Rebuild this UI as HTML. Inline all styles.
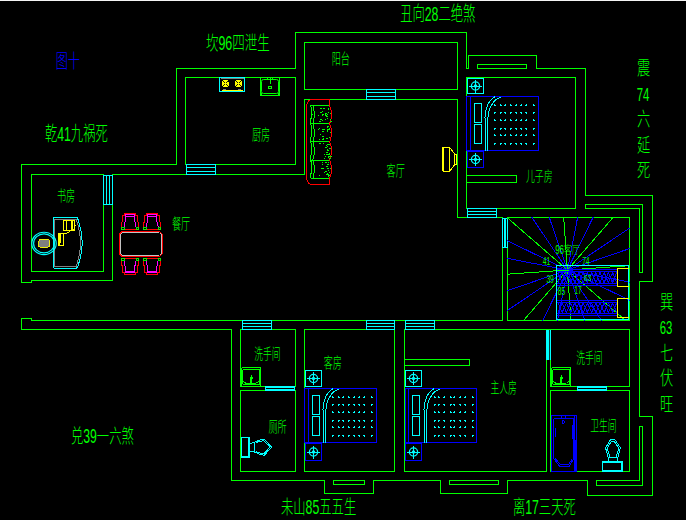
<!DOCTYPE html>
<html lang="zh"><head><meta charset="utf-8"><title>户型图 图十</title>
<style>
html,body{margin:0;padding:0;background:#000;}
body{width:686px;height:520px;overflow:hidden;font-family:"Liberation Sans",sans-serif;}
svg{display:block}
svg{shape-rendering:crispEdges}
#labels text{font-family:"Liberation Sans","Noto Sans CJK SC",sans-serif;stroke:none;font-weight:300}
</style></head><body>
<svg width="686" height="520" viewBox="0 0 686 520" fill="none" stroke-width="1">
<rect x="0" y="0" width="686" height="520" fill="#000"/>
<rect x="0" y="0" width="686" height="1" fill="#f4f4f4"/>
<g id="walls">
<path d="M21.5 164.5 L176.5 164.5 L176.5 68.5 L295.5 68.5 L295.5 32.5 L466.5 32.5 L466.5 68.5 L468.5 68.5 L468.5 55.5 L536.5 55.5 L536.5 68.5 L585.5 68.5 L585.5 195.5 L652.5 195.5 L652.5 281.5 L639.5 281.5 L639.5 416.5 L652.5 416.5 L652.5 495.5 L587.5 495.5 L587.5 480.5 L507.5 480.5 L507.5 493.5 L440.5 493.5 L440.5 480.5 L373.5 480.5 L373.5 493.5 L324.5 493.5 L324.5 480.5 L231.5 480.5 L231.5 329.5 L21.5 329.5 L21.5 318.5 L31.5 318.5 L31.5 320.5 L502.5 320.5 L502.5 217.5 L457.5 217.5 L457.5 99.5 L304.5 99.5 L304.5 174.5 L112.5 174.5 L112.5 280.5 L31.5 280.5 L31.5 282.5 L21.5 282.5 Z" stroke="#00ff00" />
<rect x="304.5" y="42.5" width="153" height="47" stroke="#00ff00" />
<rect x="185.5" y="77.5" width="110" height="87" stroke="#00ff00" />
<rect x="31.5" y="174.5" width="72" height="97" stroke="#00ff00" />
<rect x="466.5" y="77.5" width="109" height="131" stroke="#00ff00" />
<rect x="507.5" y="217.5" width="122" height="103" stroke="#00ff00" />
<rect x="240.5" y="329.5" width="55" height="57" stroke="#00ff00" />
<rect x="240.5" y="390.5" width="55" height="81" stroke="#00ff00" />
<rect x="304.5" y="329.5" width="90" height="142" stroke="#00ff00" />
<rect x="404.5" y="329.5" width="142" height="142" stroke="#00ff00" />
<rect x="550.5" y="329.5" width="79" height="57" stroke="#00ff00" />
<rect x="550.5" y="390.5" width="79" height="81" stroke="#00ff00" />
<rect x="477.5" y="64.5" width="49" height="4" stroke="#00ff00" />
<rect x="466.5" y="175.5" width="50" height="7" stroke="#00ff00" />
<rect x="404.5" y="359.5" width="65" height="6" stroke="#00ff00" />
<rect x="333.5" y="480.5" width="31" height="4" stroke="#00ff00" />
<rect x="449.5" y="480.5" width="49" height="4" stroke="#00ff00" />
<line x1="546.5" y1="329.5" x2="550.5" y2="329.5" stroke="#00ff00" />
<line x1="502.5" y1="217.5" x2="507.5" y2="217.5" stroke="#00ff00" />
<path d="M585.5 204.5 L642.5 204.5 L642.5 272.5 L639.5 272.5 L639.5 208.5 L585.5 208.5 Z" stroke="#00ff00" />
<path d="M642.5 426.5 L642.5 485.5 L596.5 485.5 L596.5 480.5 L639.5 480.5 L639.5 426.5 Z" stroke="#00ff00" />
</g>
<g id="windows">
<rect x="366.5" y="89.5" width="29" height="10" stroke="#00ffff" fill="#000"/>
<line x1="366.5" y1="92.5" x2="395.5" y2="92.5" stroke="#00ffff" />
<line x1="366.5" y1="96.5" x2="395.5" y2="96.5" stroke="#00ffff" />
<rect x="186.5" y="164.5" width="29" height="10" stroke="#00ffff" fill="#000"/>
<line x1="186.5" y1="167.5" x2="215.5" y2="167.5" stroke="#00ffff" />
<line x1="186.5" y1="171.5" x2="215.5" y2="171.5" stroke="#00ffff" />
<line x1="104" y1="174.5" x2="112" y2="174.5" stroke="#000" />
<rect x="103.5" y="175.5" width="9" height="29" stroke="#00ffff" fill="#000"/>
<line x1="106.5" y1="175.5" x2="106.5" y2="204.5" stroke="#00ffff" />
<line x1="109.5" y1="175.5" x2="109.5" y2="204.5" stroke="#00ffff" />
<rect x="467.5" y="208.5" width="29" height="9" stroke="#00ffff" fill="#000"/>
<line x1="467.5" y1="211.5" x2="496.5" y2="211.5" stroke="#00ffff" />
<line x1="467.5" y1="214.5" x2="496.5" y2="214.5" stroke="#00ffff" />
<line x1="503" y1="217.5" x2="507" y2="217.5" stroke="#000" />
<rect x="502.5" y="218.5" width="5" height="29" stroke="#00ffff" fill="#000"/>
<rect x="504" y="219" width="2" height="28" fill="#00ffff"/>
<rect x="242.5" y="320.5" width="29" height="9" stroke="#00ffff" fill="#000"/>
<line x1="242.5" y1="323.5" x2="271.5" y2="323.5" stroke="#00ffff" />
<line x1="242.5" y1="326.5" x2="271.5" y2="326.5" stroke="#00ffff" />
<rect x="366.5" y="320.5" width="28" height="9" stroke="#00ffff" fill="#000"/>
<line x1="366.5" y1="323.5" x2="394.5" y2="323.5" stroke="#00ffff" />
<line x1="366.5" y1="326.5" x2="394.5" y2="326.5" stroke="#00ffff" />
<rect x="405.5" y="320.5" width="29" height="9" stroke="#00ffff" fill="#000"/>
<line x1="405.5" y1="323.5" x2="434.5" y2="323.5" stroke="#00ffff" />
<line x1="405.5" y1="326.5" x2="434.5" y2="326.5" stroke="#00ffff" />
<rect x="546" y="330" width="3" height="30" fill="#00ffff"/><rect x="549" y="330" width="1" height="30" fill="#003c3c"/><rect x="550" y="330" width="1" height="30" fill="#00ffff"/>
<rect x="265" y="386" width="30" height="5" fill="#00ffff"/><rect x="266" y="388" width="28" height="1" fill="#000"/>
<rect x="577" y="386" width="30" height="5" fill="#00ffff"/><rect x="578" y="388" width="28" height="1" fill="#000"/>
</g>
<g id="furniture">
<g class="crisp">
<rect x="466.5" y="96.5" width="72" height="54" stroke="#0000ff" />
<line x1="470.5" y1="96.5" x2="470.5" y2="150.5" stroke="#0000ff" />
<rect x="474.5" y="103" width="7" height="19.5" stroke="#00ffff" />
<rect x="474.5" y="124" width="7" height="19.5" stroke="#00ffff" />
</g>
<path d="M485 150.5 V117.5 C485.2 107.5 488.5 100.5 495 96.5" stroke="#00ffff"/>
<path d="M487.8 150.5 V119.5 C488.1 108.5 493.5 99 501 97.3" stroke="#00ffff"/>
<path d="M494 106v-2h1v1h1v1zM500 106v-2h1v1h1v1zM506 106v-2h-1v1h-1v1zM510 106v-2h1v1h1v1zM517 106v-2h-1v1h-1v1zM522 106v-2h-1v1h-1v1zM527 106v-2h-1v1h-1v1zM533 106v-2h1v1h1v1zM494 112v2h1v-1h1v-1zM500 112v2h1v-1h1v-1zM506 112v2h-1v-1h-1v-1zM510 112v2h1v-1h1v-1zM517 112v2h-1v-1h-1v-1zM522 112v2h-1v-1h-1v-1zM527 112v2h-1v-1h-1v-1zM533 112v2h1v-1h1v-1zM494 121v-2h1v1h1v1zM500 121v-2h1v1h1v1zM506 121v-2h-1v1h-1v1zM510 121v-2h1v1h1v1zM517 121v-2h-1v1h-1v1zM522 121v-2h-1v1h-1v1zM527 121v-2h-1v1h-1v1zM533 121v-2h1v1h1v1zM494 128v2h1v-1h1v-1zM500 128v2h1v-1h1v-1zM506 128v2h-1v-1h-1v-1zM510 128v2h1v-1h1v-1zM517 128v2h-1v-1h-1v-1zM522 128v2h-1v-1h-1v-1zM527 128v2h-1v-1h-1v-1zM533 128v2h1v-1h1v-1zM494 136v-2h1v1h1v1zM500 136v-2h1v1h1v1zM506 136v-2h-1v1h-1v1zM510 136v-2h1v1h1v1zM517 136v-2h-1v1h-1v1zM522 136v-2h-1v1h-1v1zM527 136v-2h-1v1h-1v1zM533 136v-2h1v1h1v1zM494 143v2h1v-1h1v-1zM500 143v2h1v-1h1v-1zM506 143v2h-1v-1h-1v-1zM510 143v2h1v-1h1v-1zM517 143v2h-1v-1h-1v-1zM522 143v2h-1v-1h-1v-1zM527 143v2h-1v-1h-1v-1zM533 143v2h1v-1h1v-1z" fill="#00ffff" stroke="none"/>
<g class="crisp">
<rect x="304.5" y="388.5" width="72" height="54" stroke="#0000ff" />
<line x1="308.5" y1="388.5" x2="308.5" y2="442.5" stroke="#0000ff" />
<rect x="312.5" y="395" width="7" height="19.5" stroke="#00ffff" />
<rect x="312.5" y="416" width="7" height="19.5" stroke="#00ffff" />
</g>
<path d="M323 442.5 V409.5 C323.2 399.5 326.5 392.5 333 388.5" stroke="#00ffff"/>
<path d="M325.8 442.5 V411.5 C326.1 400.5 331.5 391 339 389.3" stroke="#00ffff"/>
<path d="M332 398v-2h1v1h1v1zM338 398v-2h1v1h1v1zM344 398v-2h-1v1h-1v1zM348 398v-2h1v1h1v1zM355 398v-2h-1v1h-1v1zM360 398v-2h-1v1h-1v1zM365 398v-2h-1v1h-1v1zM371 398v-2h1v1h1v1zM332 404v2h1v-1h1v-1zM338 404v2h1v-1h1v-1zM344 404v2h-1v-1h-1v-1zM348 404v2h1v-1h1v-1zM355 404v2h-1v-1h-1v-1zM360 404v2h-1v-1h-1v-1zM365 404v2h-1v-1h-1v-1zM371 404v2h1v-1h1v-1zM332 413v-2h1v1h1v1zM338 413v-2h1v1h1v1zM344 413v-2h-1v1h-1v1zM348 413v-2h1v1h1v1zM355 413v-2h-1v1h-1v1zM360 413v-2h-1v1h-1v1zM365 413v-2h-1v1h-1v1zM371 413v-2h1v1h1v1zM332 420v2h1v-1h1v-1zM338 420v2h1v-1h1v-1zM344 420v2h-1v-1h-1v-1zM348 420v2h1v-1h1v-1zM355 420v2h-1v-1h-1v-1zM360 420v2h-1v-1h-1v-1zM365 420v2h-1v-1h-1v-1zM371 420v2h1v-1h1v-1zM332 428v-2h1v1h1v1zM338 428v-2h1v1h1v1zM344 428v-2h-1v1h-1v1zM348 428v-2h1v1h1v1zM355 428v-2h-1v1h-1v1zM360 428v-2h-1v1h-1v1zM365 428v-2h-1v1h-1v1zM371 428v-2h1v1h1v1zM332 435v2h1v-1h1v-1zM338 435v2h1v-1h1v-1zM344 435v2h-1v-1h-1v-1zM348 435v2h1v-1h1v-1zM355 435v2h-1v-1h-1v-1zM360 435v2h-1v-1h-1v-1zM365 435v2h-1v-1h-1v-1zM371 435v2h1v-1h1v-1z" fill="#00ffff" stroke="none"/>
<g class="crisp">
<rect x="405.5" y="388.5" width="71" height="54" stroke="#0000ff" />
<line x1="408.5" y1="388.5" x2="408.5" y2="442.5" stroke="#0000ff" />
<rect x="412.5" y="395" width="7" height="19.5" stroke="#00ffff" />
<rect x="412.5" y="416" width="7" height="19.5" stroke="#00ffff" />
</g>
<path d="M424 442.5 V409.5 C424.2 399.5 427.5 392.5 434 388.5" stroke="#00ffff"/>
<path d="M426.8 442.5 V411.5 C427.1 400.5 432.5 391 440 389.3" stroke="#00ffff"/>
<path d="M434 398v-2h1v1h1v1zM438 398v-2h1v1h1v1zM445 398v-2h-1v1h-1v1zM450 398v-2h1v1h1v1zM455 398v-2h-1v1h-1v1zM461 398v-2h-1v1h-1v1zM466 398v-2h-1v1h-1v1zM472 398v-2h1v1h1v1zM434 404v2h1v-1h1v-1zM438 404v2h1v-1h1v-1zM445 404v2h-1v-1h-1v-1zM450 404v2h1v-1h1v-1zM455 404v2h-1v-1h-1v-1zM461 404v2h-1v-1h-1v-1zM466 404v2h-1v-1h-1v-1zM472 404v2h1v-1h1v-1zM434 413v-2h1v1h1v1zM438 413v-2h1v1h1v1zM445 413v-2h-1v1h-1v1zM450 413v-2h1v1h1v1zM455 413v-2h-1v1h-1v1zM461 413v-2h-1v1h-1v1zM466 413v-2h-1v1h-1v1zM472 413v-2h1v1h1v1zM434 420v2h1v-1h1v-1zM438 420v2h1v-1h1v-1zM445 420v2h-1v-1h-1v-1zM450 420v2h1v-1h1v-1zM455 420v2h-1v-1h-1v-1zM461 420v2h-1v-1h-1v-1zM466 420v2h-1v-1h-1v-1zM472 420v2h1v-1h1v-1zM434 428v-2h1v1h1v1zM438 428v-2h1v1h1v1zM445 428v-2h-1v1h-1v1zM450 428v-2h1v1h1v1zM455 428v-2h-1v1h-1v1zM461 428v-2h-1v1h-1v1zM466 428v-2h-1v1h-1v1zM472 428v-2h1v1h1v1zM434 435v2h1v-1h1v-1zM438 435v2h1v-1h1v-1zM445 435v2h-1v-1h-1v-1zM450 435v2h1v-1h1v-1zM455 435v2h-1v-1h-1v-1zM461 435v2h-1v-1h-1v-1zM466 435v2h-1v-1h-1v-1zM472 435v2h1v-1h1v-1z" fill="#00ffff" stroke="none"/>
<g class="crisp">
<rect x="467.5" y="78.5" width="16" height="15" stroke="#00ffff" />
</g>
<circle cx="475.5" cy="86" r="4.1" stroke="#00ffff" stroke-width="1.3" shape-rendering="geometricPrecision"/><circle cx="475.5" cy="86" r="1.7" fill="#00ffff" stroke="none" shape-rendering="geometricPrecision"/>
<path d="M469 86H482M475.5 79.5V92.5" stroke="#00ffff" class="crisp"/>
<g class="crisp">
<rect x="467.5" y="151.5" width="16" height="16" stroke="#0000ff" />
</g>
<circle cx="475.5" cy="159.5" r="4.1" stroke="#00ffff" stroke-width="1.3" shape-rendering="geometricPrecision"/><circle cx="475.5" cy="159.5" r="1.7" fill="#00ffff" stroke="none" shape-rendering="geometricPrecision"/>
<path d="M469 159.5H482M475.5 153V166" stroke="#00ffff" class="crisp"/>
<g class="crisp">
<rect x="305.5" y="370.5" width="16" height="16" stroke="#00ffff" />
</g>
<circle cx="313.5" cy="378.5" r="4.1" stroke="#00ffff" stroke-width="1.3" shape-rendering="geometricPrecision"/><circle cx="313.5" cy="378.5" r="1.7" fill="#00ffff" stroke="none" shape-rendering="geometricPrecision"/>
<path d="M307 378.5H320M313.5 372V385" stroke="#00ffff" class="crisp"/>
<g class="crisp">
<rect x="305.5" y="443.5" width="16" height="17" stroke="#0000ff" />
</g>
<circle cx="313.5" cy="452" r="4.1" stroke="#00ffff" stroke-width="1.3" shape-rendering="geometricPrecision"/><circle cx="313.5" cy="452" r="1.7" fill="#00ffff" stroke="none" shape-rendering="geometricPrecision"/>
<path d="M307 452H320M313.5 445.5V458.5" stroke="#00ffff" class="crisp"/>
<g class="crisp">
<rect x="405.5" y="370.5" width="16" height="16" stroke="#00ffff" />
</g>
<circle cx="413.5" cy="378.5" r="4.1" stroke="#00ffff" stroke-width="1.3" shape-rendering="geometricPrecision"/><circle cx="413.5" cy="378.5" r="1.7" fill="#00ffff" stroke="none" shape-rendering="geometricPrecision"/>
<path d="M407 378.5H420M413.5 372V385" stroke="#00ffff" class="crisp"/>
<g class="crisp">
<rect x="405.5" y="443.5" width="16" height="17" stroke="#0000ff" />
</g>
<circle cx="413.5" cy="452" r="4.1" stroke="#00ffff" stroke-width="1.3" shape-rendering="geometricPrecision"/><circle cx="413.5" cy="452" r="1.7" fill="#00ffff" stroke="none" shape-rendering="geometricPrecision"/>
<path d="M407 452H420M413.5 445.5V458.5" stroke="#00ffff" class="crisp"/>
<g id="stove">
<rect x="219.5" y="77.5" width="25" height="14" stroke="#00ffff" class="crisp"/>
<line x1="220.5" y1="78.5" x2="243.5" y2="78.5" stroke="#808080" class="crisp"/>
<ellipse cx="225.3" cy="83.6" rx="3.6" ry="3.9" fill="#ffff00" stroke="none"/>
<path d="M223.10000000000002 81.2L227.5 86M227.5 81.2L223.10000000000002 86" stroke="#000" stroke-width=".9"/>
<circle cx="225.3" cy="83.6" r="1" fill="#ffff00" stroke="none"/>
<ellipse cx="238.6" cy="83.6" rx="3.6" ry="3.9" fill="#ffff00" stroke="none"/>
<path d="M236.4 81.2L240.79999999999998 86M240.79999999999998 81.2L236.4 86" stroke="#000" stroke-width=".9"/>
<circle cx="238.6" cy="83.6" r="1" fill="#ffff00" stroke="none"/>
<line x1="221.5" y1="90" x2="242.5" y2="90" stroke="#ffff00" />
<path d="M223 89.5h3M237.5 89.5h3" stroke="#808080" stroke-width="1.6"/>
</g>
<g id="ksink">
<rect x="260.5" y="77.5" width="19" height="18" stroke="#00ff00" class="crisp"/>
<rect x="261.5" y="79.5" width="17" height="14" rx="2" stroke="#00ff00" shape-rendering="geometricPrecision"/>
<path d="M267.5 77.5v2.5M272.5 77.5v2.5M270 78v6" stroke="#00ff00"/><ellipse cx="270" cy="87.6" rx="1.6" ry="1" stroke="#00ff00"/>
<path d="M262 93.2l-1 1.5M278 93.2l1 1.5" stroke="#00ff00"/>
</g>
<rect x="241.5" y="367.5" width="19" height="19" rx="1.5" stroke="#00ff00"/>
<rect x="242.8" y="369.3" width="16.6" height="15.6" rx="1.2" stroke="#00ff00"/>
<path d="M243 381Q244.5 383.5 248.5 383.7H253.5Q257.5 383.5 259.2 381" stroke="#00ff00"/>
<path d="M251 375.5V384.5M250 378.5V384.5M248.5 384H253.5" stroke="#00ff00"/>
<path d="M250.5 374.5h1v2h1v2h-3v-2h1z" fill="#00ff00" stroke="none"/>
<rect x="551.5" y="367.5" width="19" height="19" rx="1.5" stroke="#00ff00"/>
<rect x="552.8" y="369.3" width="16.6" height="15.6" rx="1.2" stroke="#00ff00"/>
<path d="M553 381Q554.5 383.5 558.5 383.7H563.5Q567.5 383.5 569.2 381" stroke="#00ff00"/>
<path d="M561 375.5V384.5M560 378.5V384.5M558.5 384H563.5" stroke="#00ff00"/>
<path d="M560.5 374.5h1v2h1v2h-3v-2h1z" fill="#00ff00" stroke="none"/>
<g id="toilet1">
<rect x="241.6" y="437.6" width="7.4" height="19.6" stroke="#00ffff" stroke-width="1.3"/>
<path d="M248.5 437.5V457.5M249.5 437.5V457.5M241.5 456.5H249.5" stroke="#00ffff"/>
<path d="M249.5 443.6L254.3 442.4L259.3 440.2L264.2 439.2L271.7 447.2L264.2 455.3L259.3 454L254.3 451.9L249.5 451.4" stroke="#00ffff"/>
<path d="M254.4 442.6Q253.6 447 254.4 451.7M255.6 442.6L259.8 441.4L263.8 440.6L269.9 447.2L263.8 453.9L259.8 452.9L255.6 451.4" stroke="#00ffff"/>
</g>
<g id="toilet2">
<rect x="602.6" y="462.2" width="19.6" height="8.6" stroke="#00ffff" stroke-width="1.4"/>
<path d="M602 461.6h21" stroke="#00ffff" stroke-width="1.6"/>
<path d="M608.2 462V457.8L605.6 447.9L610.5 439.6H614.9L620.4 447.9L617.8 457.8V462" stroke="#00ffff"/>
<path d="M608.4 457.5H617.6M609.8 456.6L607.2 448.3L611.2 441.3H614.2L618.8 448.3L616.2 456.6" stroke="#00ffff"/>
</g>
<g id="tub">
<rect x="551.5" y="415.5" width="25" height="56" stroke="#0000ff" class="crisp"/>
<path d="M574.3 416v55M575.3 440v31" stroke="#0000ff" stroke-width="1.4"/>
<path d="M555.5 418.3H572.5Q573.6 418.5 573.6 420V458.7L569.2 466.6H559.8L553.8 458.7V420Q553.8 418.5 555.5 418.3Z" stroke="#0000ff"/>
<path d="M555.2 458.5L560.4 464.6H568.6L572.4 458.5M555 428v9M572.6 425v14" stroke="#0000ff"/>
<path d="M563.3 420.3l1.4 1.7l-1.4 1.7l-1.4-1.7zM561.5 415.5v2.6M565.3 415.5v2.6" stroke="#0000ff"/>
</g>
<g id="tv">
<path d="M443.2 147.4V171.4" stroke="#ffff00" stroke-width="2.2"/>
<path d="M443 147.4H449.8V171.4H443M449.8 147.6L454.8 154.3V164.6L449.8 171.2M454.8 154.8H456.5V164.2H454.8" stroke="#ffff00"/>
</g>
<g id="sofa">
<path d="M329.4 99.4H313Q306.7 99.6 306.7 106.5V177.5Q306.7 184.6 313.5 184.7H329.4" stroke="#ff0000"/>
<path d="M329.4 99.4V105L329.5 105.5Q331.3 108.5 331.5 114.5Q331.3 120.5 329.5 123.5L329.5 123.5Q331.3 126.5 331.5 132.6Q331.3 138.7 329.5 141.7L329.5 141.7Q331.3 144.7 331.5 150.85Q331.3 157 329.5 160L329.5 160Q331.3 163 331.5 169.25Q331.3 175.5 329.5 178.5V184.7" stroke="#ff0000"/>
<path d="M310.6 105.5H329.3M310.5 105.5L311.5 108.5L311.2 111.5L312 114.5L311 118.5L310.5 123.5M313 105.5L313.6 108.5L314.6 113.5L314 118.5L312.8 123.5" stroke="#00ff00"/>
<path d="M310.6 123.5H329.3M310.5 123.5L311.5 126.5L311.2 129.5L312 132.6L311 136.7L310.5 141.7M313 123.5L313.6 126.5L314.6 131.6L314 136.7L312.8 141.7" stroke="#00ff00"/>
<path d="M310.6 141.7H329.3M310.5 141.7L311.5 144.7L311.2 147.7L312 150.85L311 155L310.5 160M313 141.7L313.6 144.7L314.6 149.85L314 155L312.8 160" stroke="#00ff00"/>
<path d="M310.6 160H329.3M310.5 160L311.5 163L311.2 166L312 169.25L311 173.5L310.5 178.5M313 160L313.6 163L314.6 168.25L314 173.5L312.8 178.5" stroke="#00ff00"/>
<path d="M310.6 178.5H329.3" stroke="#00ff00"/>
<path d="M325 115h2v1h-2zM325 114h1v1h-1zM322 114h2v1h-2zM328 108h1v1h-1zM320 119h2v1h-2zM319 121h2v1h-2zM327 116h1v1h-1zM318 115h1v1h-1zM322 111h1v1h-1zM325 113h2v1h-2zM326 116h1v1h-1zM327 114h1v1h-1zM330 121h2v1h-2zM328 112h1v1h-1zM323 108h2v1h-2zM325 119h1v1h-1zM330 119h1v1h-1zM322 120h1v1h-1zM330 113h1v1h-1zM327 118h1v1h-1zM320 112h2v1h-2zM328 109h1v1h-1zM320 108h2v1h-2zM322 115h1v1h-1zM322 136h1v1h-1zM327 127h1v1h-1zM322 129h2v1h-2zM328 129h2v1h-2zM322 131h2v1h-2zM327 126h2v1h-2zM322 129h2v1h-2zM324 129h1v1h-1zM320 134h1v1h-1zM327 130h1v1h-1zM330 132h1v1h-1zM329 128h1v1h-1zM329 137h1v1h-1zM322 136h2v1h-2zM322 139h2v1h-2zM327 131h1v1h-1zM319 139h1v1h-1zM328 129h2v1h-2zM327 129h1v1h-1zM328 126h1v1h-1zM326 138h2v1h-2zM323 138h1v1h-1zM318 129h1v1h-1zM319 128h1v1h-1zM326 145h1v1h-1zM329 158h2v1h-2zM327 152h1v1h-1zM319 143h2v1h-2zM328 157h1v1h-1zM327 150h2v1h-2zM324 158h1v1h-1zM326 154h2v1h-2zM328 154h2v1h-2zM329 148h2v1h-2zM329 156h1v1h-1zM328 156h1v1h-1zM327 149h1v1h-1zM327 144h2v1h-2zM330 156h2v1h-2zM324 154h1v1h-1zM325 156h1v1h-1zM328 144h2v1h-2zM325 147h2v1h-2zM326 152h2v1h-2zM323 143h1v1h-1zM327 146h1v1h-1zM329 153h1v1h-1zM329 148h2v1h-2zM322 168h2v1h-2zM329 175h1v1h-1zM326 166h1v1h-1zM326 174h2v1h-2zM328 176h1v1h-1zM321 168h1v1h-1zM322 168h2v1h-2zM326 166h2v1h-2zM330 168h1v1h-1zM319 175h1v1h-1zM328 170h1v1h-1zM328 162h1v1h-1zM325 162h2v1h-2zM322 164h1v1h-1zM327 168h2v1h-2zM327 174h2v1h-2zM327 164h1v1h-1zM322 162h1v1h-1zM328 164h1v1h-1zM324 172h1v1h-1zM327 173h1v1h-1zM328 175h1v1h-1zM329 172h1v1h-1zM325 171h2v1h-2z" fill="#00ff00" stroke="none"/>
</g>
<g id="dining">
<path d="M122 231.5H159.7L162.6 234.4V253.6L159.7 256.5H122L119 253.6V234.4Z" stroke="#ff0000"/>
<path d="M122.4 232.6H159.3L161.5 234.8V253.2L159.3 255.4H122.4L120.1 253.2V234.8Z" stroke="#d8d8d8" stroke-width=".9"/>
<path d="M121.7 229.3H138.3M121.7 229.8V222.3L122.8 221.8V215.8H124.5V213H135.5V215.8H137.2V221.8L138.3 222.3V229.8" stroke="#ff0000"/>
<path d="M123.9 227.3L125.3 220.8V214.9H134.7V220.8L136.1 227.3M125.3 216.2H134.7" stroke="#ff00ff"/>
<rect x="121.8" y="227" width="2.2" height="2.4" stroke="#00ff00" stroke-width=".9"/><rect x="136" y="227" width="2.2" height="2.4" stroke="#00ff00" stroke-width=".9"/>
<path d="M143.8 229.3H160.4M143.8 229.8V222.3L144.9 221.8V215.8H146.6V213H157.6V215.8H159.3V221.8L160.4 222.3V229.8" stroke="#ff0000"/>
<path d="M146 227.3L147.4 220.8V214.9H156.8V220.8L158.2 227.3M147.4 216.2H156.8" stroke="#ff00ff"/>
<rect x="143.9" y="227" width="2.2" height="2.4" stroke="#00ff00" stroke-width=".9"/><rect x="158.1" y="227" width="2.2" height="2.4" stroke="#00ff00" stroke-width=".9"/>
<path d="M121.7 258.5H138.3M121.7 258V265.5L122.8 266V272H124.5V274.8H135.5V272H137.2V266L138.3 265.5V258" stroke="#ff0000"/>
<path d="M123.9 260.5L125.3 267V272.9H134.7V267L136.1 260.5M125.3 271.6H134.7" stroke="#ff00ff"/>
<rect x="121.8" y="258.4" width="2.2" height="2.4" stroke="#00ff00" stroke-width=".9"/><rect x="136" y="258.4" width="2.2" height="2.4" stroke="#00ff00" stroke-width=".9"/>
<path d="M143.8 258.5H160.4M143.8 258V265.5L144.9 266V272H146.6V274.8H157.6V272H159.3V266L160.4 265.5V258" stroke="#ff0000"/>
<path d="M146 260.5L147.4 267V272.9H156.8V267L158.2 260.5M147.4 271.6H156.8" stroke="#ff00ff"/>
<rect x="143.9" y="258.4" width="2.2" height="2.4" stroke="#00ff00" stroke-width=".9"/><rect x="158.1" y="258.4" width="2.2" height="2.4" stroke="#00ff00" stroke-width=".9"/>
</g>
<g id="desk">
<path d="M55 217.3H75.6Q77.6 217.4 78 219.5Q82 232 82.2 243Q82 254 78 266Q77.6 268.1 75.6 268.5H55Q53.4 268.4 53.4 266.8V219Q53.4 217.4 55 217.3Z" stroke="#00ffff"/>
<path d="M54.9 219.2H76.3Q80.3 232 80.5 243Q80.3 254 76.3 266.3H54.9Z" stroke="#808080"/>
<g shape-rendering="geometricPrecision"><ellipse cx="44" cy="243.4" rx="12.2" ry="11.2" stroke="#00ffff" stroke-width="1.15"/><ellipse cx="44" cy="243.4" rx="10.4" ry="9.5" stroke="#00ffff" stroke-width="1.15"/></g>
<rect x="38.6" y="239.2" width="11.2" height="8.3" rx="3" fill="#808080" stroke="#ffff00" stroke-width=".9"/>
<rect x="63.6" y="220.2" width="11" height="10.3" stroke="#ffff00"/><path d="M66.2 220.2v10.3M71.5 220.2v10.3M72.8 221v9" stroke="#ffff00"/>
<rect x="58.4" y="233.2" width="5.3" height="12.4" stroke="#ffff00"/><path d="M59.6 233.5v12M60.6 233.5v9" stroke="#ffff00" stroke-width="1.2"/>
<path d="M64.5 233.8l2-.6M67.5 232.6l2.5-1M70.5 231l1.5-1.5M72.5 229l2 .8M74.5 227l1-1.8" stroke="#ffff00"/>
</g>
<g id="stairs">
<path d="M567.4 270L577.68 217.11M567.4 270L593.18 217.14M567.4 270L629.83 227.89M567.4 270L629.88 248.49M567.4 270L629.89 282.15M567.4 270L629.86 300.46M567.4 270L601.69 320.83M567.4 270L584.92 320.88M567.4 270L557.51 320.89M567.4 270L542.59 320.86M567.4 270L507.17 310.63M567.4 270L507.12 290.76M567.4 270L507.11 258.28M567.4 270L507.14 240.61M567.4 270L531.76 217.17M567.4 270L549.19 217.12" stroke="#0000ff"/>
<path d="M567.4 270L563.7 217.1M567.4 270L613.3 217.2M567.4 270L629.9 265.63M567.4 270L625.8 320.76M567.4 270L570.96 320.9M567.4 270L523.24 320.8M567.4 270L507.1 274.22M567.4 270L507.2 217.67" stroke="#00ff00"/>
<rect x="556.5" y="265.5" width="72" height="54" stroke="#00ffff" class="crisp"/>
<path d="M557 269.8H617M557 271.9H617M557 283.4H617M557 285.4H617" stroke="#0000ff"/>
<path d="M558 272.4L562.2 282.9L566.4 272.4M558 282.9L562.2 272.4L566.4 282.9M560.1 277.65Q562.2 270.9 564.3 277.65Q562.2 284.4 560.1 277.65M566.4 272.4L570.6 282.9L574.8 272.4M566.4 282.9L570.6 272.4L574.8 282.9M568.5 277.65Q570.6 270.9 572.7 277.65Q570.6 284.4 568.5 277.65M574.8 272.4L579 282.9L583.2 272.4M574.8 282.9L579 272.4L583.2 282.9M576.9 277.65Q579 270.9 581.1 277.65Q579 284.4 576.9 277.65M583.2 272.4L587.4 282.9L591.6 272.4M583.2 282.9L587.4 272.4L591.6 282.9M585.3 277.65Q587.4 270.9 589.5 277.65Q587.4 284.4 585.3 277.65M591.6 272.4L595.8 282.9L600 272.4M591.6 282.9L595.8 272.4L600 282.9M593.7 277.65Q595.8 270.9 597.9 277.65Q595.8 284.4 593.7 277.65M600 272.4L604.2 282.9L608.4 272.4M600 282.9L604.2 272.4L608.4 282.9M602.1 277.65Q604.2 270.9 606.3 277.65Q604.2 284.4 602.1 277.65M608.4 272.4L612.6 282.9L616.8 272.4M608.4 282.9L612.6 272.4L616.8 282.9M610.5 277.65Q612.6 270.9 614.7 277.65Q612.6 284.4 610.5 277.65" stroke="#0000ff"/>
<path d="M557 300.3H617M557 302.3H617M557 313H617M557 315.2H617" stroke="#0000ff"/>
<path d="M558 302.8L562.2 312.5L566.4 302.8M558 312.5L562.2 302.8L566.4 312.5M560.1 307.65Q562.2 301.3 564.3 307.65Q562.2 314 560.1 307.65M566.4 302.8L570.6 312.5L574.8 302.8M566.4 312.5L570.6 302.8L574.8 312.5M568.5 307.65Q570.6 301.3 572.7 307.65Q570.6 314 568.5 307.65M574.8 302.8L579 312.5L583.2 302.8M574.8 312.5L579 302.8L583.2 312.5M576.9 307.65Q579 301.3 581.1 307.65Q579 314 576.9 307.65M583.2 302.8L587.4 312.5L591.6 302.8M583.2 312.5L587.4 302.8L591.6 312.5M585.3 307.65Q587.4 301.3 589.5 307.65Q587.4 314 585.3 307.65M591.6 302.8L595.8 312.5L600 302.8M591.6 312.5L595.8 302.8L600 312.5M593.7 307.65Q595.8 301.3 597.9 307.65Q595.8 314 593.7 307.65M600 302.8L604.2 312.5L608.4 302.8M600 312.5L604.2 302.8L608.4 312.5M602.1 307.65Q604.2 301.3 606.3 307.65Q604.2 314 602.1 307.65M608.4 302.8L612.6 312.5L616.8 302.8M608.4 312.5L612.6 302.8L616.8 312.5M610.5 307.65Q612.6 301.3 614.7 307.65Q612.6 314 610.5 307.65" stroke="#0000ff"/>
<path d="M628.5 268.5H617.5V286.5H628.5M628.5 298.5H617.5V317H628.5" stroke="#ffff00"/>
</g>
</g>
<g id="labels" shape-rendering="geometricPrecision">
<text x="55.64" y="67.55" font-size="19.34" fill="#0000ff" textLength="24.4" lengthAdjust="spacingAndGlyphs">图十</text>
<text x="205.94" y="50.41" font-size="19.89" fill="#00ff00" textLength="63.85" lengthAdjust="spacingAndGlyphs">坎96四泄生</text>
<text x="400.14" y="20.79" font-size="20.11" fill="#00ff00" textLength="75.3" lengthAdjust="spacingAndGlyphs">丑向28二绝煞</text>
<text x="44.94" y="141.05" font-size="20.66" fill="#00ff00" textLength="62.75" lengthAdjust="spacingAndGlyphs">乾41九祸死</text>
<text x="70.94" y="443.01" font-size="19.89" fill="#00ff00" textLength="62.75" lengthAdjust="spacingAndGlyphs">兑39一六煞</text>
<text x="280.94" y="514.33" font-size="19.56" fill="#00ff00" textLength="75.3" lengthAdjust="spacingAndGlyphs">未山85五五生</text>
<text x="512.94" y="514.33" font-size="19.56" fill="#00ff00" textLength="62.75" lengthAdjust="spacingAndGlyphs">离17三天死</text>
<text x="636.93" y="75.06" font-size="19.23" fill="#00ff00" textLength="13.2" lengthAdjust="spacingAndGlyphs">震</text>
<text x="636.67" y="101.06" font-size="19.23" fill="#00ff00" textLength="12.66" lengthAdjust="spacingAndGlyphs">74</text>
<text x="636.93" y="126.06" font-size="19.23" fill="#00ff00" textLength="13.2" lengthAdjust="spacingAndGlyphs">六</text>
<text x="636.93" y="151.56" font-size="19.23" fill="#00ff00" textLength="13.2" lengthAdjust="spacingAndGlyphs">延</text>
<text x="636.93" y="176.56" font-size="19.23" fill="#00ff00" textLength="13.2" lengthAdjust="spacingAndGlyphs">死</text>
<text x="659.93" y="309.06" font-size="19.23" fill="#00ff00" textLength="13.2" lengthAdjust="spacingAndGlyphs">巽</text>
<text x="659.67" y="334.36" font-size="19.23" fill="#00ff00" textLength="12.66" lengthAdjust="spacingAndGlyphs">63</text>
<text x="659.93" y="359.66" font-size="19.23" fill="#00ff00" textLength="13.2" lengthAdjust="spacingAndGlyphs">七</text>
<text x="659.93" y="385.46" font-size="19.23" fill="#00ff00" textLength="13.2" lengthAdjust="spacingAndGlyphs">伏</text>
<text x="659.93" y="411.06" font-size="19.23" fill="#00ff00" textLength="13.2" lengthAdjust="spacingAndGlyphs">旺</text>
<text x="331.75" y="63.92" font-size="14.4" fill="#00ff00" textLength="18.2" lengthAdjust="spacingAndGlyphs">阳台</text>
<text x="251.95" y="139.93" font-size="14.29" fill="#00ff00" textLength="18.2" lengthAdjust="spacingAndGlyphs">厨房</text>
<text x="56.95" y="201.43" font-size="14.29" fill="#00ff00" textLength="18.2" lengthAdjust="spacingAndGlyphs">书房</text>
<text x="171.95" y="228.93" font-size="14.29" fill="#00ff00" textLength="18.2" lengthAdjust="spacingAndGlyphs">餐厅</text>
<text x="386.55" y="175.93" font-size="14.29" fill="#00ff00" textLength="18.2" lengthAdjust="spacingAndGlyphs">客厅</text>
<text x="525.96" y="181.47" font-size="13.74" fill="#00ff00" textLength="26.7" lengthAdjust="spacingAndGlyphs">儿子房</text>
<text x="254.16" y="358.93" font-size="14.29" fill="#00ff00" textLength="26.4" lengthAdjust="spacingAndGlyphs">洗手间</text>
<text x="323.65" y="367.93" font-size="14.29" fill="#00ff00" textLength="18.2" lengthAdjust="spacingAndGlyphs">客房</text>
<text x="490.46" y="393.43" font-size="14.29" fill="#00ff00" textLength="26.4" lengthAdjust="spacingAndGlyphs">主人房</text>
<text x="576.16" y="363.13" font-size="14.29" fill="#00ff00" textLength="26.4" lengthAdjust="spacingAndGlyphs">洗手间</text>
<text x="268.45" y="431.53" font-size="14.29" fill="#00ff00" textLength="18.2" lengthAdjust="spacingAndGlyphs">厕所</text>
<text x="590.26" y="431.43" font-size="14.29" fill="#00ff00" textLength="26.4" lengthAdjust="spacingAndGlyphs">卫生间</text>
<text x="555.2" y="254.11" font-size="11.87" fill="#00ff00" textLength="24.46" lengthAdjust="spacingAndGlyphs">96客厅</text>
<text x="542.81" y="265.22" font-size="10.44" fill="#00ff00" textLength="7.3" lengthAdjust="spacingAndGlyphs">41</text>
<text x="582.21" y="265.22" font-size="10.44" fill="#00ff00" textLength="7.3" lengthAdjust="spacingAndGlyphs">74</text>
<text x="546.41" y="282.72" font-size="10.44" fill="#00ff00" textLength="7.3" lengthAdjust="spacingAndGlyphs">39</text>
<text x="583.81" y="280.84" font-size="8.79" fill="#00ff00" textLength="7.3" lengthAdjust="spacingAndGlyphs">63</text>
<text x="557.81" y="294.72" font-size="10.44" fill="#00ff00" textLength="7.3" lengthAdjust="spacingAndGlyphs">85</text>
<text x="574.31" y="294.22" font-size="10.44" fill="#00ff00" textLength="7.3" lengthAdjust="spacingAndGlyphs">17</text>
</g>
</svg>
</body></html>
